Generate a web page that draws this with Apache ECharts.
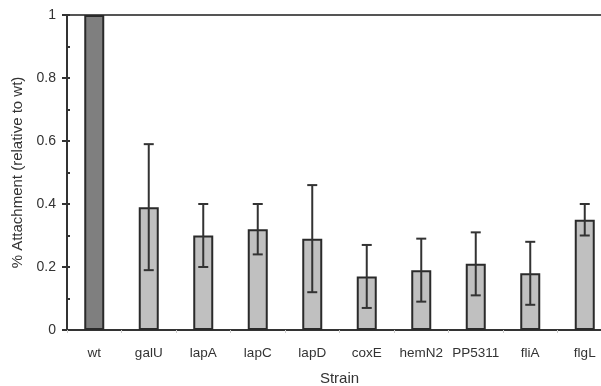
<!DOCTYPE html>
<html><head><meta charset="utf-8">
<script src="https://cdn.jsdelivr.net/npm/echarts@6/dist/echarts.min.js"></script>
<style>html,body{margin:0;padding:0;background:#fff}#c{width:601px;height:386px}</style>
</head><body><div id="c"></div>
<script>
var categories = ['wt','galU','lapA','lapC','lapD','coxE','hemN2','PP5311','fliA','flgL'];
var values = [1.0,0.39,0.30,0.32,0.29,0.17,0.19,0.21,0.18,0.35];
var errLow = [null,0.19,0.20,0.24,0.12,0.07,0.09,0.11,0.08,0.30];
var errHigh = [null,0.59,0.40,0.40,0.46,0.27,0.29,0.31,0.28,0.40];
var yTicks = [0,0.2,0.4,0.6,0.8,1];

var chart = echarts.init(document.getElementById('c'), null, {renderer:'canvas'});
var font = 'Liberation Sans, Arial, sans-serif';
var errData = categories.map(function(c,i){ return [i, errLow[i], errHigh[i]]; }).filter(function(d){return d[1]!==null;});
chart.setOption({
  animation:false,
  grid:{left:67,width:545,top:15,bottom:56,outerBoundsMode:'none',containLabel:false,show:true,borderColor:'#555',borderWidth:2,backgroundColor:'transparent'},
  xAxis:{type:'category',data:categories,
    axisLine:{lineStyle:{color:'#333',width:2}},
    axisTick:{show:true,length:3,lineStyle:{color:'#ccc'}},
    axisLabel:{color:'#333',fontFamily:font,fontSize:13.5,margin:16,interval:0},
    name:'Strain',nameLocation:'middle',nameGap:41,
    nameTextStyle:{color:'#333',fontFamily:font,fontSize:15}},
  yAxis:[{type:'value',min:yTicks[0],max:yTicks[yTicks.length-1],interval:0.2,
    axisLine:{show:true,lineStyle:{color:'#333',width:2}},
    axisTick:{show:true,length:5,lineStyle:{color:'#333',width:2}},
    splitLine:{show:false},
    axisLabel:{color:'#333',fontFamily:font,fontSize:14,margin:11,formatter:function(v){return String(Math.round(v*10)/10);}},
    name:'% Attachment (relative to wt)',nameLocation:'middle',nameGap:39,
    nameTextStyle:{color:'#333',fontFamily:font,fontSize:15}},
   {type:'value',min:yTicks[0],max:yTicks[yTicks.length-1],interval:0.1,position:'left',
    axisLine:{show:false},
    axisTick:{show:true,inside:true,length:3,lineStyle:{color:'#333',width:2}},
    splitLine:{show:false},axisLabel:{show:false}}],
  series:[
    {type:'bar',barWidth:20,
     data:values.map(function(v,i){return {value:v,itemStyle:{color:i===0?'#7f7f7f':'#c0c0c0'}};}),
     itemStyle:{borderColor:'#2a2a2a',borderWidth:2}},
    {type:'custom',data:errData,z:5,
     renderItem:function(params,api){
       var x=api.value(0);
       var lo=api.coord([x,api.value(1)]), hi=api.coord([x,api.value(2)]);
       var hw=5;
       var st={stroke:'#333',lineWidth:2};
       return {type:'group',children:[
         {type:'line',shape:{x1:lo[0],y1:lo[1],x2:hi[0],y2:hi[1]},style:st},
         {type:'line',shape:{x1:lo[0]-hw,y1:lo[1],x2:lo[0]+hw,y2:lo[1]},style:st},
         {type:'line',shape:{x1:hi[0]-hw,y1:hi[1],x2:hi[0]+hw,y2:hi[1]},style:st}
       ]};
     }}
  ]
});
</script></body></html>
